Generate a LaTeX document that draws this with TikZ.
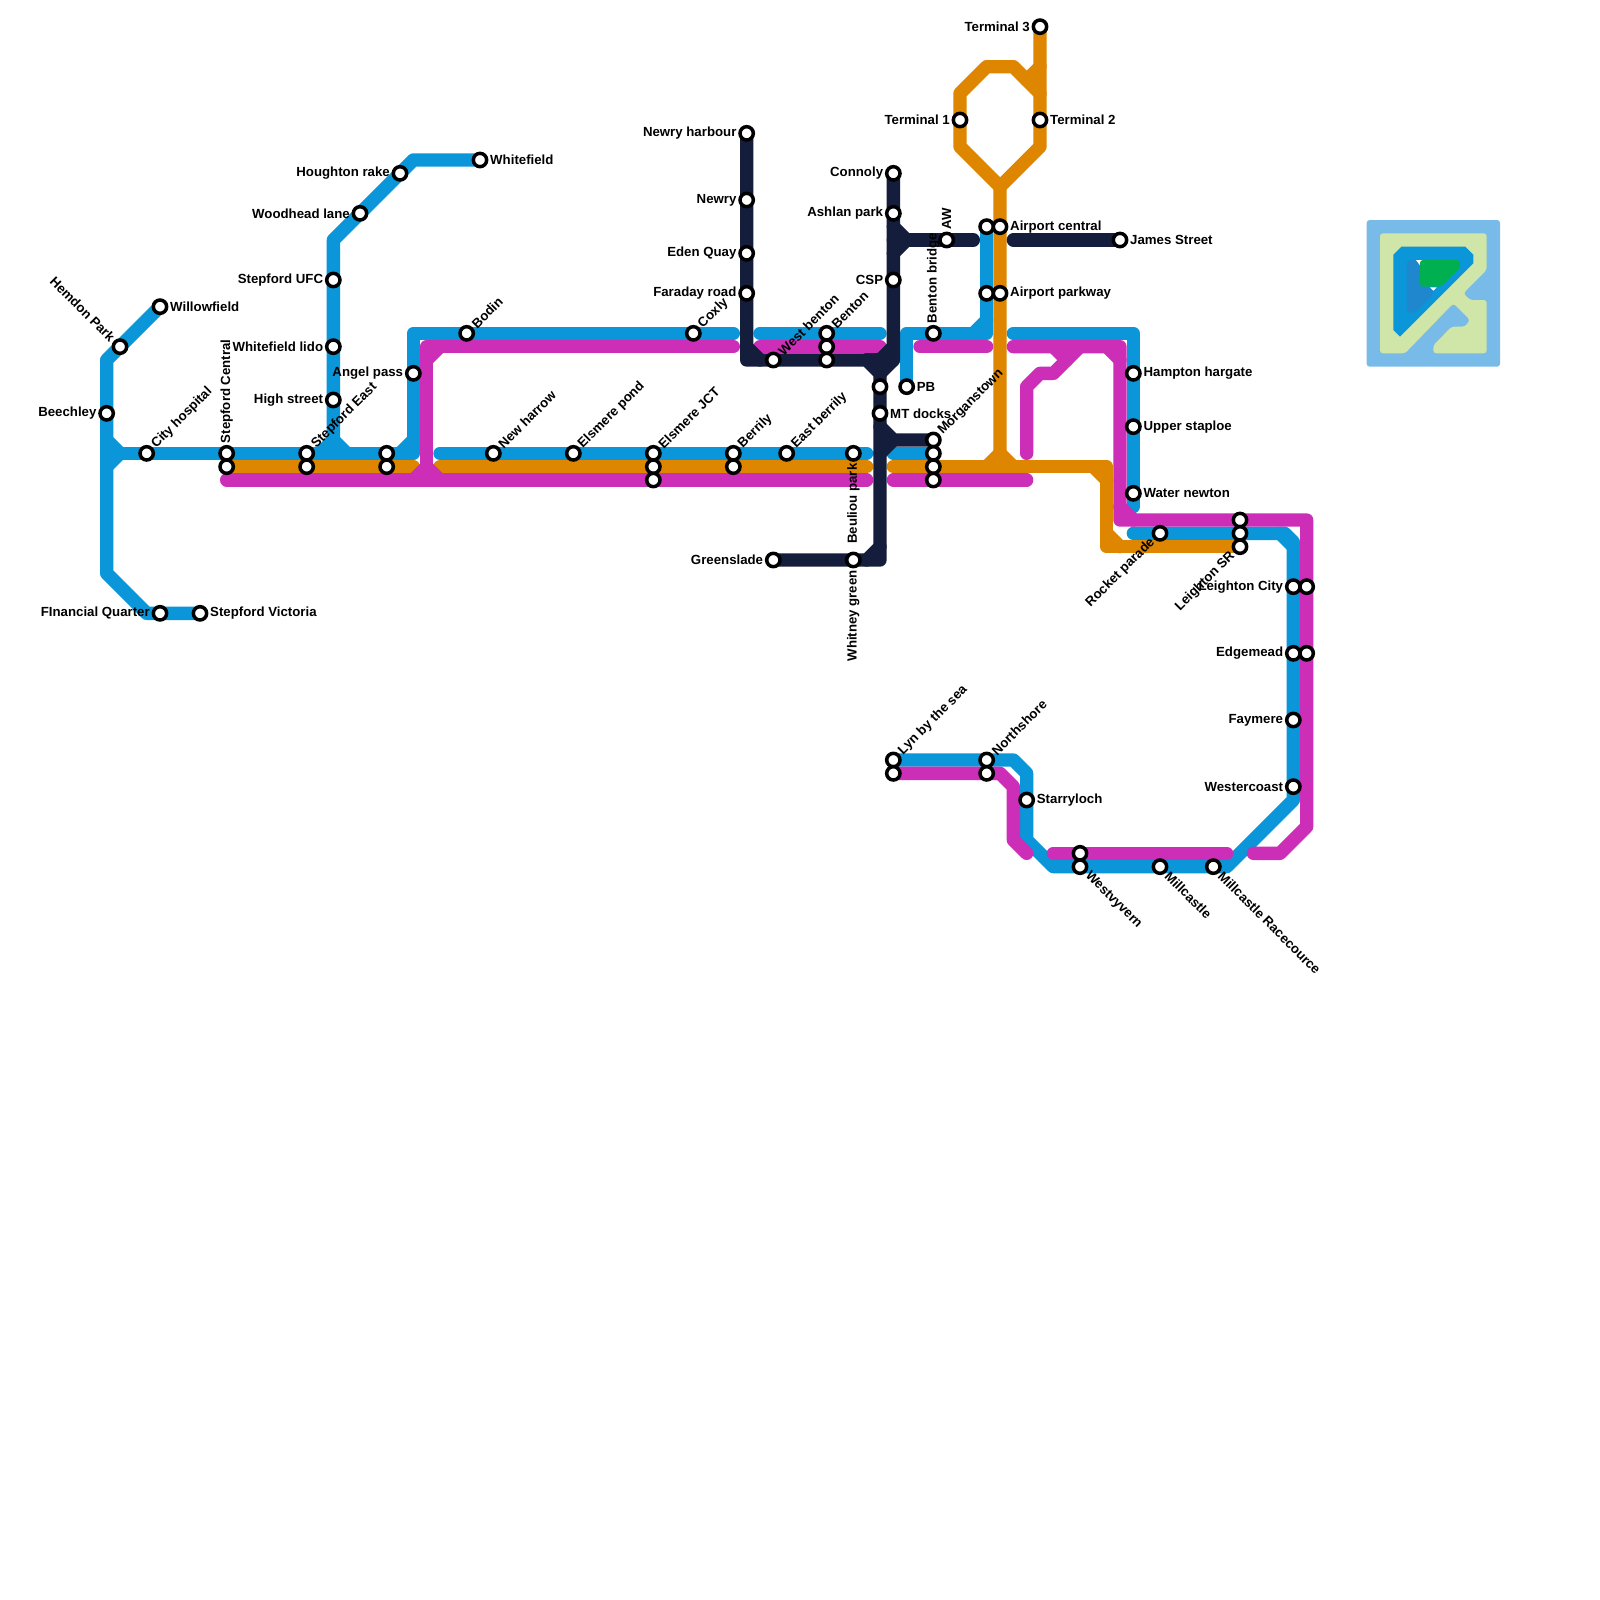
\documentclass[tikz,border=0pt]{standalone}
\usepackage{fontspec}
\setmainfont{Liberation Sans}
\definecolor{lblue}{HTML}{0A96D8}
\definecolor{lorange}{HTML}{DF8600}
\definecolor{lmagenta}{HTML}{CC2EB7}
\definecolor{lnavy}{HTML}{141D3C}
\definecolor{logosky}{HTML}{79BBE8}
\definecolor{logolime}{HTML}{D0E5A8}
\definecolor{logomid}{HTML}{1F87CD}
\definecolor{logogreen}{HTML}{00B050}
\tikzset{
  railway/.style={line width=0.4cm,line cap=round,line join=round},
  blueline/.style={railway,draw=lblue},
  orangeline/.style={railway,draw=lorange},
  magentaline/.style={railway,draw=lmagenta},
  navyline/.style={railway,draw=lnavy},
  stn/.style={circle,draw=black,fill=white,line width=0.105cm,minimum size=0.4cm,inner sep=0pt,outer sep=0pt},
  lbl/.style={font=\fontsize{11.3pt}{12pt}\selectfont\bfseries,text=black,inner sep=0pt},
  lblE/.style={lbl,anchor=west,xshift=0.3cm},
  lblW/.style={lbl,anchor=east,xshift=-0.3cm},
  lblNE/.style={lbl,rotate=45,anchor=west,xshift=0.3cm},
  lblSW/.style={lbl,rotate=45,anchor=east,xshift=-0.3cm},
  lblN/.style={lbl,rotate=90,anchor=west,xshift=0.3cm},
  lblS/.style={lbl,rotate=90,anchor=east,xshift=-0.3cm},
  lblSE/.style={lbl,rotate=-45,anchor=west,xshift=0.3cm},
  lblNW/.style={lbl,rotate=-45,anchor=east,xshift=-0.3cm},
  logopart/.style={rounded corners=2.5pt},
}
\begin{document}
\begin{tikzpicture}[x=0.4cm,y=-0.4cm]
\useasboundingbox (0,0) rectangle (120,120);
\fill[white] (0,0) rectangle (120,120);
% station positions on the grid
\foreach \n/\x/\y in {willow/12/23,hemdon/9/26,beech/8/31,cityh/11/34,stcA/17/34,stcB/17/35,steA/23/34,steB/23/35,
  unA/29/34,unB/29/35,angel/31/28,finq/12/46,stv/15/46,hough/30/13,whitef/36/12,woodh/27/16,ufc/25/21,lido/25/26,high/25/30,
  bodin/35/25,coxly/52/25,newh/37/34,elp/43/34,ejA/49/34,ejB/49/35,ejC/49/36,berA/55/34,berB/55/35,eberr/59/34,beul/64/34,
  whit/64/42,green/58/42,nhar/56/10,newry/56/15,eden/56/19,farad/56/22,wben/58/27,benA/62/25,benB/62/26,benC/62/27,
  unC/66/29,mtd/66/31,pb/68/29,conn/67/13,ashl/67/16,csp/67/21,aw/71/18,bridge/70/25,morA/70/33,morB/70/34,morC/70/35,morD/70/36,
  acA/74/17,acB/75/17,apA/74/22,apB/75/22,tone/72/9,ttwo/78/9,tthree/78/2,james/84/18,hamp/85/28,upper/85/32,water/85/37,
  rock/87/40,lsA/93/39,lsB/93/40,lsC/93/41,lcA/97/44,lcB/98/44,edA/97/49,edB/98/49,fay/97/54,west/97/59,lyA/67/57,lyB/67/58,
  norA/74/57,norB/74/58,starry/77/60,wvA/81/64,wvB/81/65,mill/87/65,race/91/65}
  {\coordinate (\n) at (\x,\y);}
% blue
\draw[blueline] (willow)--(8,27)--(8,43)--(11,46)--(stv);
\draw[blueline] (8,33)--(9,34)--(8,35);
\draw[blueline] (8,34)--(31,34)--(31,25)--(55,25);
\draw[blueline] (30,34)--(31,33);
\draw[blueline] (whitef)--(31,12)--(25,18)--(25,34);
\draw[blueline] (24,34)--(25,33)--(26,34);
\draw[blueline] (33,34)--(65,34);
\draw[blueline] (57,25)--(66,25);
\draw[blueline] (67,34)--(morB);
\draw[blueline] (pb)--(68,25)--(74,25)--(acA);
\draw[blueline] (73,25)--(74,24);
\draw[blueline] (76,25)--(85,25)--(85,38);
\draw[blueline] (85,40)--(96.35,40)--(97,40.65)--(west)--(97,60)--(92,65)--(79,65)--(77,63)--(77,58)--(76,57)--(lyA);
\draw[blueline] (96,40)--(97,41);
% orange
\draw[orangeline] (stcB)--(31,35);
\draw[orangeline] (33,35)--(65,35);
\draw[orangeline] (67,35)--(83,35)--(83,41)--(lsC);
\draw[orangeline] (82,35)--(83,36);
\draw[orangeline] (83,40)--(84,41);
\draw[orangeline] (tthree)--(78,11)--(75,14)--(75,35);
\draw[orangeline] (75,14)--(72,11)--(72,7)--(74,5)--(76,5)--(78,7);
\draw[orangeline] (77,6)--(78,5);
\draw[orangeline] (74,35)--(75,34)--(76,35);
% magenta
\draw[magentaline] (17,36)--(65,36);
\draw[magentaline] (31,36)--(32,35)--(33,36);
\draw[magentaline] (32,36)--(32,26)--(55,26);
\draw[magentaline] (32,27)--(33,26);
\draw[magentaline] (57,26)--(66,26);
\draw[magentaline] (69,26)--(74,26);
\draw[magentaline] (67,36)--(77,36);
\draw[magentaline] (76,26)--(84,26)--(84,39)--(98,39)--(98,62)--(96,64)--(94,64);
\draw[magentaline] (83,26)--(84,27);
\draw[magentaline] (84,38)--(85,39);
\draw[magentaline] (77,34)--(77,29)--(78,28)--(79,28)--(81,26);
\draw[magentaline] (79,26)--(80,27);
\draw[magentaline] (lyB)--(75,58)--(76,59)--(76,63)--(77,64);
\draw[magentaline] (79,64)--(92,64);
% navy
\draw[navyline] (nhar)--(56,27)--(65,27)--(66,28)--(66,42)--(green);
\draw[navyline] (56,26)--(57,27);
\draw[navyline] (65,42)--(66,41);
\draw[navyline] (conn)--(67,27)--(66,28);
\draw[navyline] (65,27)--(67,27);
\draw[navyline] (66,27)--(67,26);
\draw[navyline] (67,17)--(68,18)--(67,19);
\draw[navyline] (67,18)--(73,18);
\draw[navyline] (76,18)--(james);
\draw[navyline] (66,32)--(67,33)--(morA);
\draw[navyline] (66,34)--(67,33);
% logo
\fill[logosky,logopart] (102.5,16.5) rectangle (112.5,27.5);
\fill[logolime,logopart] (103.5,17.5)--(111.5,17.5)--(111.5,20.25)--(109.75,22)--(110.25,22.5)--(111.5,22.5)--(111.5,26.5)--(107.5,26.5)--(107.5,25.9)--(108.875,24.5)--(109.875,24.5)--(110.25,24)--(109,22.75)--(105.375,26.5)--(103.5,26.5)--cycle;
\fill[lblue] (104.5,19.1)--(105.1,18.5)--(109.9,18.5)--(110.5,19.1)--(110.5,19.75)--(105,25.25)--(104.5,24.75)--cycle;
\fill[logomid,rounded corners=4pt] (105.5,19.5)--(107.5,19.5)--(107.5,22.1)--(106.1,23.5)--(105.5,23.5)--cycle;
\fill[white] (106.2,19.5)--(106.8,19.5)--(106.5,19.9)--cycle;
\fill[white] (107.25,21.55)--(107.75,21.55)--(107.5,21.8)--cycle;
\fill[logogreen,logopart] (106.5,19.5)--(109.5,19.5)--(109.5,20.1)--(108.1,21.5)--(106.5,21.5)--cycle;
% stations
\foreach \n in {willow,hemdon,beech,cityh,stcA,stcB,steA,steB,unA,unB,angel,finq,stv,hough,whitef,woodh,ufc,lido,high,
  bodin,coxly,newh,elp,ejA,ejB,ejC,berA,berB,eberr,beul,whit,green,nhar,newry,eden,farad,wben,benA,benB,benC,
  unC,mtd,pb,conn,ashl,csp,aw,bridge,morA,morB,morC,morD,acA,acB,apA,apB,tone,ttwo,tthree,james,hamp,upper,water,
  rock,lsA,lsB,lsC,lcA,lcB,edA,edB,fay,west,lyA,lyB,norA,norB,starry,wvA,wvB,mill,race}
  {\node[stn] (s\n) at (\n) {};}
% labels
\node[lblE] (tWillow) at (willow) {Willowfield};
\node[lblNW] (tHemdon) at (hemdon) {Hemdon Park};
\node[lblW] (tBeech) at (beech) {Beechley};
\node[lblNE] (tCity) at (cityh) {City hospital};
\node[lblN] (tStc) at (stcA) {Stepford Central};
\node[lblNE] (tSte) at (steA) {Stepford East};
\node[lblW] (tAngel) at (angel) {Angel pass};
\node[lblW] (tFinq) at (finq) {FInancial Quarter};
\node[lblE] (tStv) at (stv) {Stepford Victoria};
\node[lblW] (tHough) at (hough) {Houghton rake};
\node[lblE] (tWhitef) at (whitef) {Whitefield};
\node[lblW] (tWoodh) at (woodh) {Woodhead lane};
\node[lblW] (tUfc) at (ufc) {Stepford UFC};
\node[lblW] (tLido) at (lido) {Whitefield lido};
\node[lblW] (tHigh) at (high) {High street};
\node[lblNE] (tBodin) at (bodin) {Bodin};
\node[lblNE] (tCoxly) at (coxly) {Coxly};
\node[lblNE] (tNewh) at (newh) {New harrow};
\node[lblNE] (tElp) at (elp) {Elsmere pond};
\node[lblNE] (tEj) at (ejA) {Elsmere JCT};
\node[lblNE] (tBer) at (berA) {Berrily};
\node[lblNE] (tEberr) at (eberr) {East berrily};
\node[lblS] (tBeul) at (beul) {Beuliou park};
\node[lblS] (tWhit) at (whit) {Whitney green};
\node[lblW] (tGreen) at (green) {Greenslade};
\node[lblW] (tNhar) at (nhar) {Newry harbour};
\node[lblW] (tNewry) at (newry) {Newry};
\node[lblW] (tEden) at (eden) {Eden Quay};
\node[lblW] (tFarad) at (farad) {Faraday road};
\node[lblNE] (tWben) at (wben) {West benton};
\node[lblNE] (tBen) at (benA) {Benton};
\node[lblE] (tMtd) at (mtd) {MT docks};
\node[lblE] (tPb) at (pb) {PB};
\node[lblW] (tConn) at (conn) {Connoly};
\node[lblW] (tAshl) at (ashl) {Ashlan park};
\node[lblW] (tCsp) at (csp) {CSP};
\node[lblN] (tAw) at (aw) {AW};
\node[lblN] (tBridge) at (bridge) {Benton bridge};
\node[lblNE] (tMor) at (morA) {Morganstown};
\node[lblE] (tAc) at (acB) {Airport central};
\node[lblE] (tAp) at (apB) {Airport parkway};
\node[lblW] (tTone) at (tone) {Terminal 1};
\node[lblE] (tTtwo) at (ttwo) {Terminal 2};
\node[lblW] (tTthree) at (tthree) {Terminal 3};
\node[lblE] (tJames) at (james) {James Street};
\node[lblE] (tHamp) at (hamp) {Hampton hargate};
\node[lblE] (tUpper) at (upper) {Upper staploe};
\node[lblE] (tWater) at (water) {Water newton};
\node[lblSW] (tRock) at (rock) {Rocket parade};
\node[lblSW] (tLs) at (lsC) {Leighton SR};
\node[lblW] (tLc) at (lcA) {Leighton City};
\node[lblW] (tEd) at (edA) {Edgemead};
\node[lblW] (tFay) at (fay) {Faymere};
\node[lblW] (tWest) at (west) {Westercoast};
\node[lblNE] (tLy) at (lyA) {Lyn by the sea};
\node[lblNE] (tNor) at (norA) {Northshore};
\node[lblE] (tStarry) at (starry) {Starryloch};
\node[lblSE] (tWv) at (wvB) {Westvyvern};
\node[lblSE] (tMill) at (mill) {Millcastle};
\node[lblSE] (tRace) at (race) {Millcastle Racecource};
\end{tikzpicture}
\end{document}
